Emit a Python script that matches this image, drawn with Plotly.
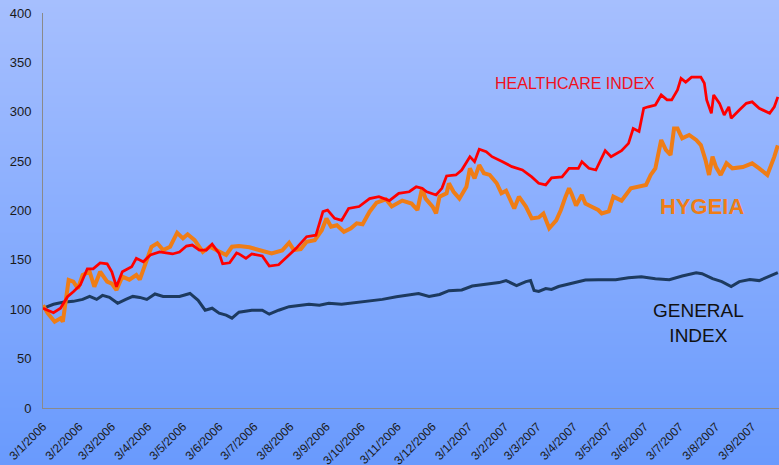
import base64, struct, zlib
import plotly.graph_objects as go

# ---------------- data ----------------
general_dates = ["2006-01-03","2006-01-12","2006-01-20","2006-01-29","2006-02-06","2006-02-12","2006-02-18","2006-02-23",
    "2006-03-01","2006-03-08","2006-03-15","2006-03-21","2006-03-27","2006-04-02","2006-04-09","2006-04-16","2006-04-24",
    "2006-04-30","2006-05-09","2006-05-16","2006-05-22","2006-05-28","2006-06-03","2006-06-09","2006-06-14","2006-06-20",
    "2006-07-01","2006-07-10","2006-07-16","2006-07-24","2006-08-02","2006-08-11","2006-08-19","2006-08-28","2006-09-05",
    "2006-09-16","2006-09-28","2006-10-10","2006-10-21","2006-11-02","2006-11-13","2006-11-21","2006-11-30","2006-12-09",
    "2006-12-17","2006-12-28","2007-01-06","2007-01-18","2007-01-29","2007-02-04","2007-02-13","2007-02-21","2007-02-25",
    "2007-02-28","2007-03-04","2007-03-10","2007-03-15","2007-03-21","2007-04-01","2007-04-13","2007-04-24","2007-05-09",
    "2007-05-20","2007-05-31","2007-06-12","2007-06-24","2007-07-05","2007-07-17","2007-07-22","2007-07-31","2007-08-08",
    "2007-08-16","2007-08-23","2007-09-01","2007-09-09","2007-09-18","2007-09-25"]
general_values = [101,105,107,108,110,113,110,114,112,106,110,113,112,110,115.5,113,113,113,116,109,99,101,96,94,91,97,
    99,99,95,99,102.6,103.6,105,104,106,105,106.6,108.7,110,112.7,115,116,113,115,118.8,119.5,123.5,125.6,127,129,124,
    128,129,119,118,121,120,123,126,129.6,130,130,132,133,131,130,133.7,137,136,131,128,123,128,130,129,133.7,137]

health_dates = ["2006-01-03","2006-01-12","2006-01-18","2006-01-24","2006-01-29","2006-02-04","2006-02-10","2006-02-15",
    "2006-02-21","2006-02-27","2006-03-03","2006-03-07","2006-03-12","2006-03-20","2006-03-24","2006-03-30","2006-04-05",
    "2006-04-13","2006-04-24","2006-04-30","2006-05-06","2006-05-11","2006-05-17","2006-05-23","2006-05-28","2006-06-03",
    "2006-06-06","2006-06-12","2006-06-18","2006-06-20","2006-06-26","2006-07-01","2006-07-10","2006-07-16","2006-07-24",
    "2006-07-31","2006-08-08","2006-08-17","2006-08-25","2006-08-31","2006-09-04","2006-09-10","2006-09-16","2006-09-22",
    "2006-10-01","2006-10-10","2006-10-18","2006-10-27","2006-11-04","2006-11-13","2006-11-19","2006-11-24","2006-11-28",
    "2006-12-06","2006-12-11","2006-12-15","2006-12-23","2006-12-28","2007-01-04","2007-01-08","2007-01-12","2007-01-18",
    "2007-01-23","2007-02-01","2007-02-09","2007-02-18","2007-02-26","2007-03-04","2007-03-10","2007-03-15","2007-03-24",
    "2007-03-30","2007-04-07","2007-04-10","2007-04-16","2007-04-22","2007-04-30","2007-05-05","2007-05-14","2007-05-20",
    "2007-05-24","2007-05-29","2007-06-02","2007-06-06","2007-06-12","2007-06-17","2007-06-22","2007-06-26","2007-07-01",
    "2007-07-04","2007-07-08","2007-07-13","2007-07-21","2007-07-24","2007-07-26","2007-07-30","2007-08-01","2007-08-06",
    "2007-08-10","2007-08-14","2007-08-16","2007-08-23","2007-08-29","2007-09-03","2007-09-09","2007-09-18","2007-09-22",
    "2007-09-25"]
health_values = [101,96.5,101,112.7,117.8,124.6,141,141,147,146,138,122.8,138,143,151.6,148,155,158,156,158,164,165,160,
    160,166,156.6,146,147,157,156,151.6,156,154,143.8,145,152.6,161.7,173.5,175,198.8,200.5,192,190,202,204,212,214,210,
    217.4,219,224,222.6,219,215.7,222.5,235,236,241,254.5,249.4,262,259.6,254.5,249.4,244.4,241,234,227.6,225.9,233,234,
    242.7,242.7,249.4,242.7,241,260.6,254.5,260.6,268,283,280,303.5,305,306.8,317,312,312,322,333.8,330,335,335,328.8,
    312,298.4,317,308.5,296.7,305,293.4,301.8,308.5,310,303.5,298.4,305,315]

hygeia_dates = ["2006-01-03","2006-01-07","2006-01-13","2006-01-18","2006-01-20","2006-01-25","2006-01-29","2006-02-02",
    "2006-02-06","2006-02-12","2006-02-16","2006-02-21","2006-02-27","2006-03-03","2006-03-07","2006-03-12","2006-03-18",
    "2006-03-24","2006-03-27","2006-04-01","2006-04-06","2006-04-11","2006-04-16","2006-04-22","2006-04-28","2006-05-03",
    "2006-05-07","2006-05-13","2006-05-20","2006-05-26","2006-06-01","2006-06-09","2006-06-14","2006-06-20","2006-06-29",
    "2006-07-10","2006-07-18","2006-07-27","2006-08-02","2006-08-06","2006-08-12","2006-08-17","2006-08-24","2006-08-30",
    "2006-09-03","2006-09-07","2006-09-12","2006-09-18","2006-09-24","2006-09-29","2006-10-04","2006-10-10","2006-10-16",
    "2006-10-24","2006-10-29","2006-11-07","2006-11-15","2006-11-20","2006-11-24","2006-11-27","2006-12-03","2006-12-06",
    "2006-12-09","2006-12-15","2006-12-17","2006-12-21","2006-12-26","2007-01-01","2007-01-04","2007-01-08","2007-01-12",
    "2007-01-16","2007-01-21","2007-01-27","2007-01-31","2007-02-04","2007-02-11","2007-02-15","2007-02-21","2007-02-26",
    "2007-03-04","2007-03-08","2007-03-13","2007-03-19","2007-03-23","2007-03-27","2007-03-30","2007-04-01","2007-04-05",
    "2007-04-10","2007-04-13","2007-04-18","2007-04-24","2007-04-27","2007-05-03","2007-05-07","2007-05-14","2007-05-22",
    "2007-05-29","2007-06-04","2007-06-08","2007-06-12","2007-06-17","2007-06-21","2007-06-25","2007-06-28","2007-07-01",
    "2007-07-05","2007-07-11","2007-07-17","2007-07-21","2007-07-25","2007-07-28","2007-07-31","2007-08-03","2007-08-07",
    "2007-08-12","2007-08-17","2007-08-26","2007-09-03","2007-09-09","2007-09-16","2007-09-22","2007-09-25"]
hygeia_values = [104,96,87.4,90.8,87.4,129.6,128,121,134.7,138,122.8,138,128,126,119.5,133,130,134.7,130,146.5,163.3,
    166.8,160,163.3,177.5,171.8,175.9,170,158,163.3,160,155,163.3,164,162.7,159.3,156.6,159.5,167.4,160,161,168.4,170,
    180,192,183.6,185,178.5,182,187,186,198.8,208,211.3,204,210,207,200.5,222.5,212,204,197,214,217.4,227.5,219,212,224,
    242.7,232.6,246,237.7,236,227.6,217.4,220,202,214,204,192,193,197,182,190,200.5,214,222.5,217.4,205,215.7,207,204,
    200.5,197,199,214,210,222.5,224,225.9,236,242.7,271.4,261.3,256.2,283,283,273,276.5,271.4,266.3,251.1,236,254.5,
    244,236,247.8,242.7,244,247.8,242.7,236,254.5,266]

tick_dates = ["2006-01-03","2006-02-03","2006-03-03","2006-04-03","2006-05-03","2006-06-03","2006-07-03","2006-08-03",
    "2006-09-03","2006-10-03","2006-11-03","2006-12-03","2007-01-03","2007-02-03","2007-03-03","2007-04-03","2007-05-03",
    "2007-06-03","2007-07-03","2007-08-03","2007-09-03"]
tick_labels = ["3/1/2006","3/2/2006","3/3/2006","3/4/2006","3/5/2006","3/6/2006","3/7/2006","3/8/2006","3/9/2006",
    "3/10/2006","3/11/2006","3/12/2006","3/1/2007","3/2/2007","3/3/2007","3/4/2007","3/5/2007","3/6/2007","3/7/2007",
    "3/8/2007","3/9/2007"]

# ---------------- background gradient image ----------------
W, H = 779, 465
L, R, T, B = 43, 0, 13, 57
PW, PH = W - L - R, H - T - B

def gradient_png(h, top, bot):
    raw = b""
    for i in range(h):
        t = i / (h - 1)
        c = bytes(int(round(top[j] + (bot[j] - top[j]) * t)) for j in range(3))
        raw += b"\x00" + c * 2
    def chunk(tag, data):
        return struct.pack(">I", len(data)) + tag + data + struct.pack(">I", zlib.crc32(tag + data) & 0xffffffff)
    png = b"\x89PNG\r\n\x1a\n" + chunk(b"IHDR", struct.pack(">IIBBBBB", 2, h, 8, 2, 0, 0, 0))
    png += chunk(b"IDAT", zlib.compress(raw)) + chunk(b"IEND", b"")
    return "data:image/png;base64," + base64.b64encode(png).decode()

bg = gradient_png(H, (166, 191, 254), (105, 154, 253))

FONT = "Liberation Sans, Arial, sans-serif"

fig = go.Figure()
fig.add_trace(go.Scatter(x=general_dates, y=general_values, mode="lines",
                         line=dict(color="#1d3a5f", width=3), name="GENERAL INDEX"))
fig.add_trace(go.Scatter(x=hygeia_dates, y=hygeia_values, mode="lines",
                         line=dict(color="#ef7d16", width=4), name="HYGEIA"))
fig.add_trace(go.Scatter(x=health_dates, y=health_values, mode="lines",
                         line=dict(color="#ff0000", width=2.75), name="HEALTHCARE INDEX"))

fig.update_layout(
    width=W, height=H,
    margin=dict(l=L, r=R, t=T, b=B, pad=0),
    paper_bgcolor="#88acfd", plot_bgcolor="rgba(0,0,0,0)",
    showlegend=False,
    font=dict(family=FONT, color="#1a1a1a"),
    images=[dict(source=bg, xref="paper", yref="paper", x=-L / PW, y=1 + T / PH,
                 sizex=W / PW, sizey=H / PH, sizing="stretch", xanchor="left", yanchor="top",
                 layer="below")],
    xaxis=dict(type="date", range=["2006-01-03", "2007-09-26"], tickvals=tick_dates, ticktext=tick_labels,
               tickangle=-45, tickfont=dict(size=12, color="#1a1a1a"), showgrid=False, zeroline=False,
               showline=True, linecolor="#8a8a8a", linewidth=1, ticks="", ticklabelstandoff=6,
               automargin=False),
    yaxis=dict(range=[0, 400], dtick=50, tickfont=dict(size=13, color="#1a1a1a"), showgrid=False,
               zeroline=False, showline=True, linecolor="#8a8a8a", linewidth=1, ticks="",
               ticklabelstandoff=8, automargin=False),
    annotations=[
        dict(text="HEALTHCARE INDEX", xref="paper", yref="paper", x=(575 - L) / PW, y=(H - B - 84) / PH,
             xanchor="center", yanchor="middle",
             showarrow=False, font=dict(size=16, color="#f01020", family=FONT)),
        dict(text="<b>HYGEIA</b>", xref="paper", yref="paper", x=(702 - L) / PW, y=(H - B - 207) / PH,
             xanchor="center", yanchor="middle",
             showarrow=False, font=dict(size=22, color="#ef7d16", family=FONT)),
        dict(text="GENERAL<br>INDEX", xref="paper", yref="paper", x=(698 - L) / PW, y=(H - B - 323) / PH,
             xanchor="center", yanchor="middle",
             showarrow=False, font=dict(size=19, color="#111111", family=FONT)),
    ],
)

fig.write_html("out.html", config={"displayModeBar": False},
               post_script="document.body.style.margin='0';document.body.style.overflow='hidden';")
